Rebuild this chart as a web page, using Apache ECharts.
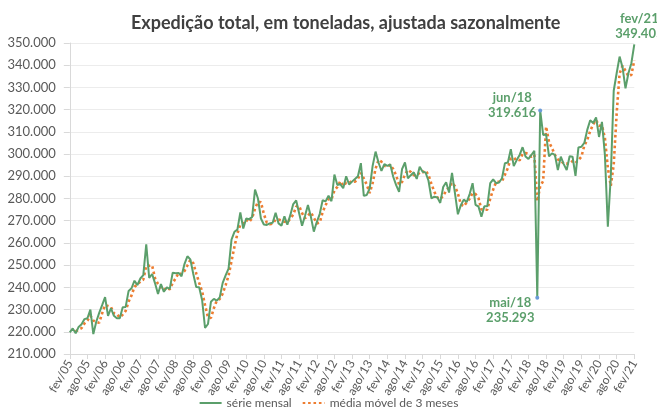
<!DOCTYPE html>
<html>
<head>
<meta charset="utf-8">
<script src="https://cdn.jsdelivr.net/npm/echarts@6/dist/echarts.min.js"></script>
<style>
  html, body { margin: 0; padding: 0; background: #fff; }
  #chart { width: 657px; height: 415px; }
</style>
</head>
<body>
<div id="chart"></div>
<script>
// meses do eixo: fev/05 ... fev/21
const mesesNomes = ['jan','fev','mar','abr','mai','jun','jul','ago','set','out','nov','dez'];
const categorias = [];
for (let k = 0; k < 193; k++) {
  const m = (1 + k) % 12;
  const a = 5 + Math.floor((1 + k) / 12);
  categorias.push(mesesNomes[m] + '/' + String(a).padStart(2, '0'));
}

// expedição mensal dessazonalizada (mil toneladas), a partir de fev/05
const serieMensal = [
  219.7, 221.5, 219.3, 222.2, 223.4, 225.7, 226.1, 230.0, 219.0, 224.5, 228.5, 232.0,
  235.6, 227.2, 230.6, 227.2, 226.1, 226.1, 231.0, 231.2, 238.4, 239.6, 243.0, 241.0,
  244.0, 245.5, 259.4, 244.2, 246.0, 241.8, 237.0, 241.5, 238.0, 240.0, 239.3, 246.6,
  246.4, 246.5, 245.0, 250.5, 254.0, 252.6, 246.0, 240.2, 240.0, 234.3, 221.7, 223.5,
  233.5, 234.8, 234.0, 235.5, 242.0, 245.4, 248.4, 261.5, 265.0, 266.0, 273.7, 266.5,
  271.0, 270.7, 271.6, 284.0, 280.0, 271.0, 268.3, 268.1, 268.8, 269.1, 273.6, 268.8,
  267.8, 272.0, 268.2, 272.5, 277.5, 279.1, 273.4, 267.7, 272.2, 277.1, 271.8, 265.1,
  269.4, 273.0, 279.2, 278.7, 281.2, 278.8, 290.8, 286.1, 286.5, 284.6, 290.0, 286.3,
  287.6, 288.8, 290.0, 295.9, 281.2, 281.6, 284.5, 294.7, 301.1, 296.2, 292.4, 295.5,
  294.7, 295.3, 289.8, 286.0, 283.0, 293.2, 296.2, 289.1, 290.5, 291.8, 288.8, 294.3,
  292.0, 291.7, 288.0, 280.1, 280.8, 280.5, 278.0, 285.2, 287.3, 282.7, 291.5, 282.4,
  272.9, 277.0, 279.5, 278.4, 282.0, 286.9, 277.1, 276.4, 271.8, 276.5, 276.5, 286.9,
  288.6, 286.9, 287.2, 289.1, 295.9, 296.2, 302.2, 294.6, 297.3, 299.6, 303.1, 298.9,
  297.8, 299.6, 301.5, 235.293, 319.616, 308.6, 308.8, 299.0, 300.3, 299.6, 292.8, 298.8,
  295.5, 292.8, 299.0, 298.8, 290.2, 303.0, 303.3, 305.0, 310.9, 315.2, 314.0, 316.5,
  307.7, 314.5, 299.6, 267.3, 290.0, 328.5, 336.4, 343.9, 339.0, 329.6, 336.4, 340.9,
  349.405
];

// pontos destacados
const destaques = [
  { mes: 'mai/18', valor: 235.293, off: [-27, 12], marca: true },
  { mes: 'jun/18', valor: 319.616, off: [-28, -5], marca: true },
  { mes: 'fev/21', valor: 349.405, off: [5, -18], marca: false }
];

// média móvel de 3 meses (linha de tendência)
const mediaMovel = serieMensal.map((v, i) =>
  i < 2 ? null : +((serieMensal[i] + serieMensal[i - 1] + serieMensal[i - 2]) / 3).toFixed(3));

const verde = '#5B9F6B';
const laranja = '#ED7D31';
const fonte = 'Lato, "Open Sans", sans-serif';

const chart = echarts.init(document.getElementById('chart'));
chart.setOption({
  animation: false,
  backgroundColor: '#fff',
  title: {
    text: 'Expedição total, em toneladas, ajustada sazonalmente',
    left: 126,
    top: 9,
    textStyle: { fontFamily: fonte, fontSize: 18, fontWeight: 'bold', color: '#404040' }
  },
  legend: {
    bottom: 1,
    left: 'center',
    itemWidth: 22,
    itemHeight: 10,
    itemGap: 10,
    itemStyle: { opacity: 0 },
    textStyle: { fontFamily: fonte, fontSize: 12, color: '#595959' },
    data: ['série mensal', 'média móvel de 3 meses']
  },
  grid: { left: 69.8, right: 22.7, top: 43, bottom: 61 },
  xAxis: {
    type: 'category',
    data: categorias,
    boundaryGap: false,
    axisLine: { lineStyle: { color: '#d9d9d9' } },
    axisTick: { interval: 5, length: 5, lineStyle: { color: '#d9d9d9' } },
    axisLabel: {
      interval: 5, rotate: 60, margin: 7,
      fontFamily: fonte, fontSize: 12, color: '#595959'
    }
  },
  yAxis: {
    type: 'value',
    min: 210, max: 350, interval: 10,
    axisLine: { show: true, lineStyle: { color: '#d9d9d9' } },
    axisTick: { show: true, length: 6, lineStyle: { color: '#d9d9d9' } },
    splitLine: { lineStyle: { color: '#ececec' } },
    axisLabel: {
      margin: 14,
      fontFamily: fonte, fontSize: 13, color: '#595959',
      formatter: v => v.toFixed(3)
    }
  },
  series: [
    {
      name: 'série mensal',
      type: 'line',
      data: serieMensal,
      symbol: 'none',
      lineStyle: { color: verde, width: 2 },
      itemStyle: { color: verde },
      z: 3,
      markPoint: {
        data: destaques.map(d => ({
          coord: [d.mes, d.valor],
          symbol: 'circle',
          symbolSize: d.marca ? 4 : 0,
          itemStyle: { color: '#6A9BD8' },
          label: {
            show: true,
            position: 'inside',
            offset: d.off,
            align: 'center',
            verticalAlign: 'middle',
            lineHeight: 15,
            fontFamily: fonte, fontSize: 13, fontWeight: 'bold', color: verde,
            formatter: d.mes + '\n' + d.valor.toFixed(3)
          }
        }))
      }
    },
    {
      name: 'média móvel de 3 meses',
      type: 'line',
      data: mediaMovel,
      symbol: 'none',
      lineStyle: { color: laranja, width: 2.6, type: [2.6, 2.8], cap: 'butt' },
      itemStyle: { color: laranja },
      z: 2
    }
  ]
});
</script>
</body>
</html>
